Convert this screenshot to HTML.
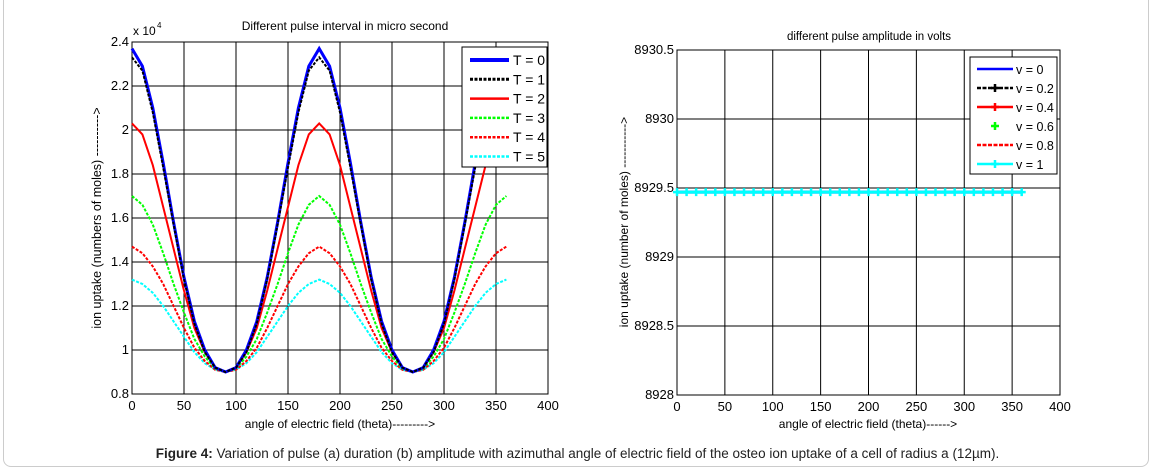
<!DOCTYPE html>
<html><head><meta charset="utf-8"><style>
html,body{margin:0;padding:0;background:#fff;}
#wrap{position:relative;width:1155px;height:472px;overflow:hidden;font-family:"Liberation Sans",Arial,sans-serif;}
#frame{position:absolute;left:3px;top:-10px;width:1146px;height:477px;border:1px solid #ccc;border-radius:8px;box-sizing:border-box;}
svg text{font-family:"Liberation Sans",Arial,sans-serif;}
#caption{position:absolute;left:0;width:1155px;top:446px;text-align:center;font-size:13.5px;color:#222;}
</style></head><body>
<div id="wrap">
<div id="frame"></div>
<svg id="svg" width="1155" height="472" style="position:absolute;left:0;top:0"></svg>
<div id="caption"><b>Figure 4:</b> Variation of pulse (a) duration (b) amplitude with azimuthal angle of electric field of the osteo ion uptake of a cell of radius a (12µm).</div>
</div>
<script>
const angles=[0,10,20,30,40,50,60,70,80,90,100,110,120,130,140,150,160,170,180,190,200,210,220,230,240,250,260,270,280,290,300,310,320,330,340,350,360];
const t0=[2.37,2.29,2.10,1.85,1.58,1.33,1.13,1.00,0.92,0.90,0.92,1.00,1.13,1.33,1.58,1.85,2.10,2.29,2.37,2.29,2.10,1.85,1.58,1.33,1.13,1.00,0.92,0.90,0.92,1.00,1.13,1.33,1.58,1.85,2.10,2.29,2.37];
const t1=[2.33,2.27,2.08,1.83,1.57,1.32,1.12,0.99,0.92,0.90,0.92,0.99,1.12,1.32,1.57,1.83,2.08,2.27,2.33,2.27,2.08,1.83,1.57,1.32,1.12,0.99,0.92,0.90,0.92,0.99,1.12,1.32,1.57,1.83,2.08,2.27,2.33];
const t2=[2.03,1.98,1.84,1.65,1.46,1.27,1.10,0.99,0.92,0.90,0.92,0.99,1.10,1.27,1.46,1.65,1.84,1.98,2.03,1.98,1.84,1.65,1.46,1.27,1.10,0.99,0.92,0.90,0.92,0.99,1.10,1.27,1.46,1.65,1.84,1.98,2.03];
const t3=[1.70,1.66,1.57,1.44,1.30,1.17,1.05,0.97,0.915,0.90,0.915,0.97,1.05,1.17,1.30,1.44,1.57,1.66,1.70,1.66,1.57,1.44,1.30,1.17,1.05,0.97,0.915,0.90,0.915,0.97,1.05,1.17,1.30,1.44,1.57,1.66,1.70];
const t4=[1.47,1.44,1.38,1.30,1.20,1.10,1.01,0.95,0.91,0.90,0.91,0.95,1.01,1.10,1.20,1.30,1.38,1.44,1.47,1.44,1.38,1.30,1.20,1.10,1.01,0.95,0.91,0.90,0.91,0.95,1.01,1.10,1.20,1.30,1.38,1.44,1.47];
const t5=[1.32,1.30,1.26,1.20,1.13,1.06,0.99,0.94,0.91,0.90,0.91,0.94,0.99,1.06,1.13,1.20,1.26,1.30,1.32,1.30,1.26,1.20,1.13,1.06,0.99,0.94,0.91,0.90,0.91,0.94,0.99,1.06,1.13,1.20,1.26,1.30,1.32];
const vLevel=[8929.47,8929.47,8929.47,8929.47,8929.47,8929.47,8929.47,8929.47,8929.47,8929.47,8929.47,8929.47,8929.47,8929.47,8929.47,8929.47,8929.47,8929.47,8929.47,8929.47,8929.47,8929.47,8929.47,8929.47,8929.47,8929.47,8929.47,8929.47,8929.47,8929.47,8929.47,8929.47,8929.47,8929.47,8929.47,8929.47,8929.47];
const xTicks=[0,50,100,150,200,250,300,350,400];
const leftYTicks=[0.8,1,1.2,1.4,1.6,1.8,2,2.2,2.4];
const rightYTicks=[8928,8928.5,8929,8929.5,8930,8930.5];
const leftLabels=["T = 0","T = 1","T = 2","T = 3","T = 4","T = 5"];
const rightLabels=["v = 0","v = 0.2","v = 0.4","v = 0.6","v = 0.8","v = 1"];

const NS="http://www.w3.org/2000/svg";
const svg=document.getElementById('svg');
function mk(tag,attrs,parent){const e=document.createElementNS(NS,tag);for(const k in attrs)e.setAttribute(k,attrs[k]);(parent||svg).appendChild(e);return e;}
function txt(s,x,y,size,anchor,parent){const t=mk('text',{x:x,y:y,'font-size':size,'text-anchor':anchor||'middle',fill:'#000'},parent);t.textContent=s;return t;}

function axes(L,R,T,B,xmin,xmax,ymin,ymax){
  return {x:v=>L+(v-xmin)/(xmax-xmin)*(R-L), y:v=>B-(v-ymin)/(ymax-ymin)*(B-T)};
}
function frame(L,R,T,B,sx,sy,yt,fmt,name){
  const g=mk('g',{});
  
  
  mk('rect',{x:L,y:T,width:R-L,height:B-T,fill:'#fff',stroke:'#000','stroke-width':1},g);
  xTicks.forEach(v=>{const x=sx(v);mk('line',{x1:x,y1:T,x2:x,y2:B,stroke:'#000','stroke-width':1},g);
    const t=txt(String(v),x,B+16,13,'middle',g);});
  yt.forEach(v=>{const y=sy(v);mk('line',{x1:L,y1:y,x2:R,y2:y,stroke:'#000','stroke-width':1},g);
    const t=txt(fmt(v),L-3,y+4,13,'end',g);});
}
function line(xs,ys,sx,sy,color,w,dash,name){
  const p=xs.map((a,i)=>sx(a).toFixed(1)+','+sy(ys[i]).toFixed(1)).join(' ');
  const e=mk('polyline',{points:p,fill:'none',stroke:color,'stroke-width':w});
  if(dash)e.setAttribute('stroke-dasharray',dash);
  
  
  return e;
}
function star(x,y,color,g){
  mk('path',{d:`M${x-4},${y}H${x+4}M${x},${y-4}V${y+4}`,stroke:color,'stroke-width':2.5},g);
}

// LEFT CHART
const A=axes(132,548,42,394,0,400,0.8,2.4);
frame(132,548,42,394,A.x,A.y,leftYTicks,v=>String(Math.round(v*10)/10),'left');
const lt=txt('Different pulse interval in micro second',345,30,12);

const ex=txt('x 10',133,35,12,'start');
txt('4',157,28,8,'start');
const lx=txt('angle of electric field (theta)--------->',340,428,12);

const ly=txt('ion uptake (numbers of moles) ---------->',0,0,12.5);
ly.setAttribute('transform','translate(101,218) rotate(-90)');

const lseries=[[t5,'#00ffff',2,'3,1.5'],[t4,'#ff0000',2,'3,1.5'],[t3,'#00ff00',2,'3,1.5'],[t2,'#ff0000',2,null],[t0,'#0000ff',3,null],[t1,'#000000',2,'3,1.5']];
lseries.forEach((s,i)=>line(angles,s[0],A.x,A.y,s[1],s[2],s[3],'left-series-line'));
// legend
const lg=mk('g',{});


mk('rect',{x:462,y:47,width:85,height:120,fill:'#fff',stroke:'#000'},lg);
const lsty=[['#0000ff',4,null],['#000',3,'3,1.5'],['#ff0000',2.5,null],['#00ff00',2.5,'3,1.5'],['#ff0000',2.5,'3,1.5'],['#00ffff',2.5,'3,1.5']];
leftLabels.forEach((s,i)=>{const y=60+i*19.3;
  const l=mk('line',{x1:470,y1:y,x2:509,y2:y,stroke:lsty[i][0],'stroke-width':lsty[i][1]},lg);if(lsty[i][2])l.setAttribute('stroke-dasharray',lsty[i][2]);
  const t=txt(s,513,y+5,14,'start',lg);});

// RIGHT CHART
const B=axes(677,1060,50,395,0,400,8928,8930.5);
frame(677,1060,50,395,B.x,B.y,rightYTicks,v=>String(v),'right');
const rt=txt('different pulse amplitude  in volts',869,40,11.5);

const rx=txt('angle of electric field (theta)------>',868,428,12);

const ry=txt('ion uptake (number of moles) ----------->',0,0,12);
ry.setAttribute('transform','translate(628,222) rotate(-90)');

line(angles,vLevel,B.x,B.y,'#0000ff',3,null,'right-series-line');
line(angles,vLevel,B.x,B.y,'#00ffff',3,null,'right-series-line');
const mg=mk('g',{});


angles.forEach((a,i)=>star(B.x(a),B.y(vLevel[i]),'#00ffff',mg));
const rg=mk('g',{});


mk('rect',{x:970,y:57,width:87,height:117,fill:'#fff',stroke:'#000'},rg);
const rsty=[['#0000ff',null,false],['#000','4,1.5',true],['#ff0000',null,true],[null,null,true],['#ff0000','4,1.5',false],['#00ffff',null,true]];
const mcol=['','#000','#ff0000','#00ff00','','#00ffff'];
rightLabels.forEach((s,i)=>{const y=69+i*19;
  if(rsty[i][0]){const l=mk('line',{x1:977,y1:y,x2:1013,y2:y,stroke:rsty[i][0],'stroke-width':2.5},rg);if(rsty[i][1])l.setAttribute('stroke-dasharray',rsty[i][1]);}
  if(rsty[i][2])star(995,y,mcol[i],rg);
  const t=txt(s,1016,y+5,12.5,'start',rg);});
</script>
</body></html>
